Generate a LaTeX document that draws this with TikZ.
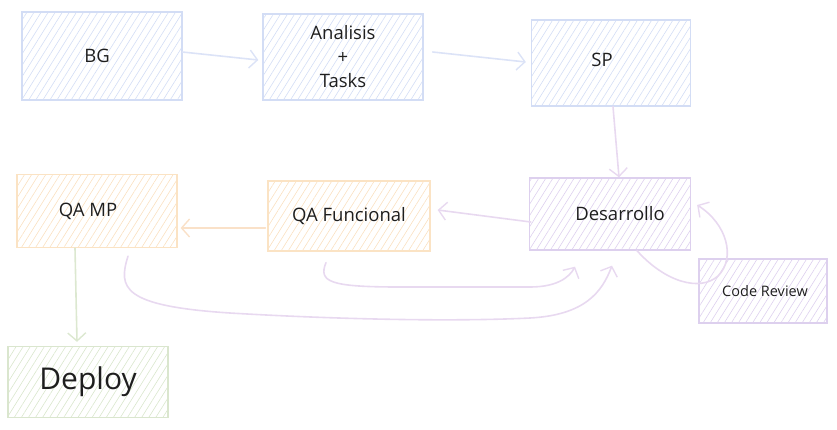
\documentclass[tikz,border=0pt]{standalone}
\usepackage{fontspec}
\setmainfont{Open Sans}
\usetikzlibrary{arrows.meta,patterns.meta}
\definecolor{bluebox}{HTML}{D3DDF5}
\definecolor{bluehatch}{HTML}{D3DDF5}
\definecolor{orangebox}{HTML}{FBE3C4}
\definecolor{orangehatch}{HTML}{FAE0C0}
\definecolor{purplebox}{HTML}{DDD0EE}
\definecolor{purplehatch}{HTML}{DDD0EE}
\definecolor{greenbox}{HTML}{DAE6CE}
\definecolor{greenhatch}{HTML}{D9E6CC}
\definecolor{bluearrow}{HTML}{DCE3F7}
\definecolor{purplearrow}{HTML}{E8D9F0}
\definecolor{orangearrow}{HTML}{FAE1C8}
\definecolor{greenarrow}{HTML}{DCE8D0}
\definecolor{ink}{HTML}{1E1E1E}
\tikzset{
  hatch/.style={pattern={Lines[angle=58,distance=6pt,line width=0.6pt]}},
  box/.style={draw, line width=1.3pt, rectangle, inner sep=0pt, align=center,
    font=\fontsize{18.5}{24}\selectfont, text=ink, hatch},
  bluestyle/.style={box, draw=bluebox, pattern color=bluehatch},
  orangestyle/.style={box, draw=orangebox, pattern color=orangehatch},
  purplestyle/.style={box, draw=purplebox, pattern color=purplehatch},
  greenstyle/.style={box, draw=greenbox, pattern color=greenhatch},
  conn/.style={line width=1.6pt, line cap=round,
    -{Straight Barb[length=8pt,width=18pt,line width=1.4pt]}},
}
\begin{document}
\begin{tikzpicture}[x=1pt,y=-1pt]
\useasboundingbox (0,0) rectangle (837,429);
\node[bluestyle, minimum width=160pt, minimum height=88pt] (bg) at (102,56) {BG\hspace*{10pt}};
\node[bluestyle, minimum width=160pt, minimum height=86pt] (ana) at (343,57) {Analisis\\+\\Tasks\hspace*{0pt}};
\node[bluestyle, minimum width=159pt, minimum height=86pt] (sp) at (611,63) {\raisebox{6pt}{SP}\hspace*{18pt}};
\node[purplestyle, minimum width=161pt, minimum height=72pt] (des) at (610,214) {\hspace*{20pt}\raisebox{-2pt}{Desarrollo}};
\node[orangestyle, minimum width=162pt, minimum height=70pt] (qaf) at (349,216) {QA Funcional};
\node[orangestyle, minimum width=160pt, minimum height=73pt] (qamp) at (97,211) {QA MP\hspace*{18pt}};
\node[greenstyle, minimum width=160pt, minimum height=71pt, font=\fontsize{30}{34}\selectfont] (deploy) at (88,382) {Deploy};
\node[purplestyle, minimum width=128pt, minimum height=64pt, font=\fontsize{14.5}{17}\selectfont] (cr) at (763,291) {\hspace*{4pt}\raisebox{-4pt}{Code Review}};

\draw[conn, draw=bluearrow] ([yshift=4pt]bg.east) -- ([xshift=-4pt,yshift=-3pt]ana.west);
\draw[conn, draw=bluearrow] ([xshift=9pt,yshift=5pt]ana.east) -- ([xshift=-5pt,yshift=1pt]sp.west);
\draw[conn, draw=purplearrow] ([xshift=2pt]sp.south) -- ([xshift=9pt]des.north);
\draw[conn, draw=purplearrow] ([xshift=2pt,yshift=-8pt]des.west) -- ([xshift=7pt,yshift=6pt]qaf.east);
\draw[conn, draw=orangearrow] ([xshift=-2pt,yshift=-12pt]qaf.west) -- ([xshift=3pt,yshift=-17pt]qamp.east);
\draw[conn, draw=greenarrow] ([xshift=-22pt]qamp.south) -- ([xshift=-11pt,yshift=4pt]deploy.north);
\draw[conn, draw=purplearrow] ([xshift=27pt]des.south) .. controls (665,282) and (700,292) .. (718,276)
  .. controls (736,258) and (727,224) .. ([xshift=6pt,yshift=9pt]des.east);
\draw[conn, draw=purplearrow] ([xshift=-23pt,yshift=-11pt]qaf.south) .. controls (318,282) and (330,287) .. (400,287)
  -- (530,287) .. controls (556,287) and (569,278) .. ([xshift=-35pt,yshift=-16pt]des.south);
\draw[conn, draw=purplearrow] ([xshift=31pt,yshift=-8pt]qamp.south) .. controls (118,288) and (122,306) .. (230,313)
  .. controls (330,319) and (450,322) .. (530,318) .. controls (585,315) and (602,292) .. ([xshift=2pt,yshift=-15pt]des.south);
\end{tikzpicture}
\end{document}
